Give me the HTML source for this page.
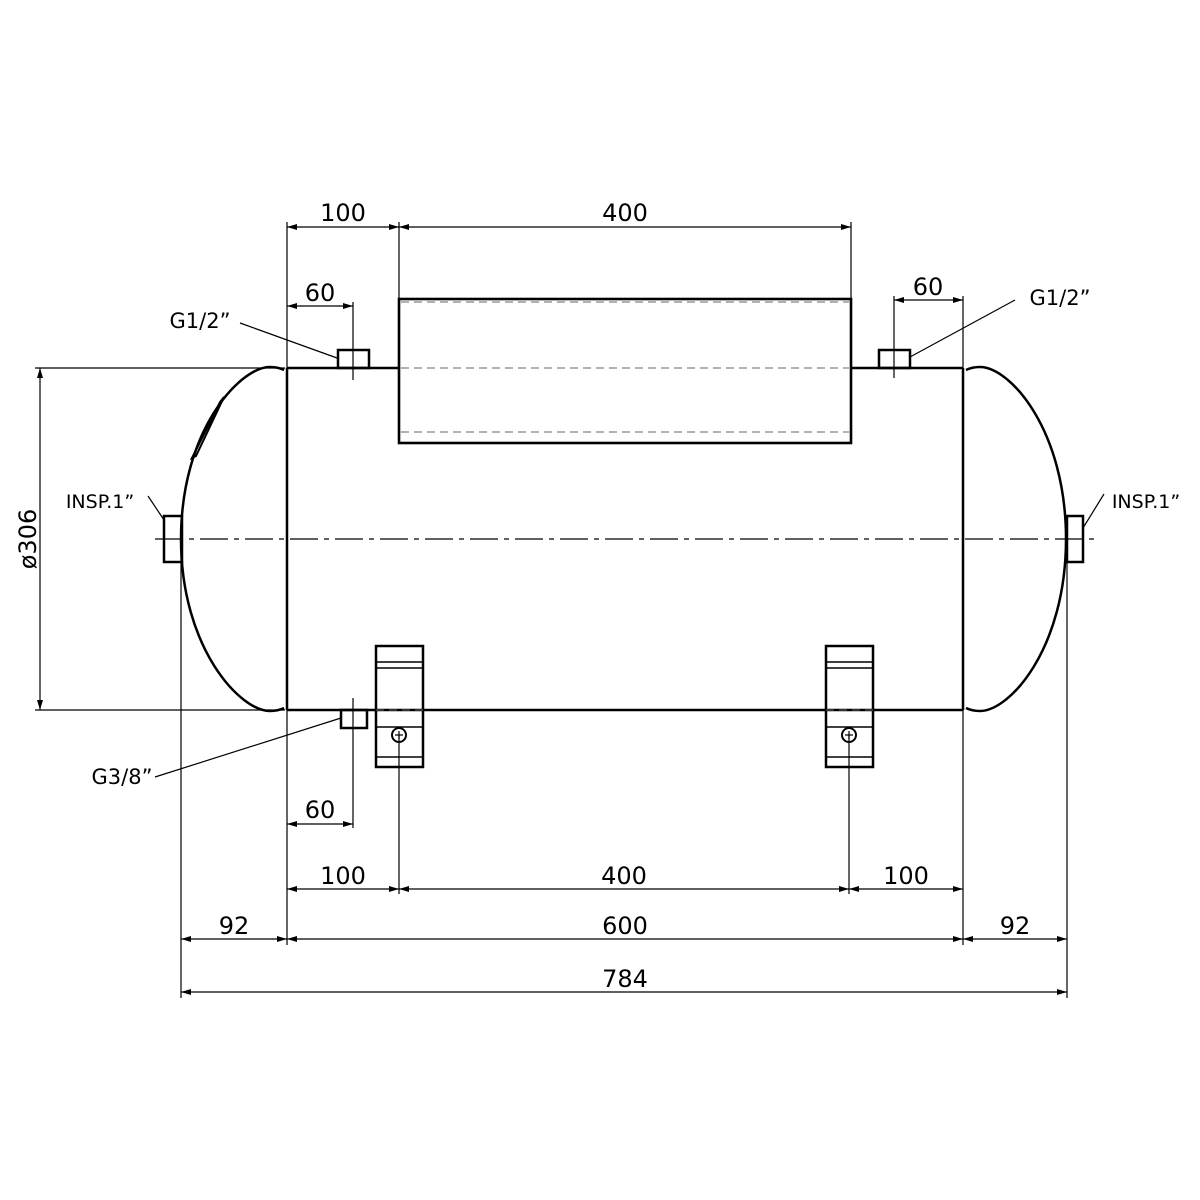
<!DOCTYPE html>
<html><head><style>
html,body{margin:0;padding:0;background:#fff;}
svg{display:block}
text{font-family:"DejaVu Sans","Liberation Sans",sans-serif;fill:#000}
</style></head><body>
<svg width="1200" height="1200" viewBox="0 0 1200 1200" xmlns="http://www.w3.org/2000/svg">
<defs>
<marker id="a" viewBox="0 0 10 6" refX="10" refY="3" markerWidth="10" markerHeight="6" orient="auto-start-reverse" markerUnits="userSpaceOnUse"><path d="M0,0 L10,3 L0,6 z" fill="#000"/></marker>
</defs>
<g fill="none" stroke="#000">
<line x1="155" y1="539" x2="1095" y2="539" stroke-width="1.2" stroke-dasharray="28,6,5,6"/>
<g stroke-width="2.5">
<line x1="287" y1="368" x2="399" y2="368"/>
<line x1="851" y1="368" x2="963" y2="368"/>
<line x1="287" y1="710" x2="963" y2="710"/>
<line x1="287" y1="368" x2="287" y2="710"/>
<line x1="963" y1="368" x2="963" y2="710"/>
<path d="M284,370 C280,368 275,367 270,367 C240,367 181,430 181,539 C181,648 240,711 270,711 C275,711 280,710 284,708"/>
<path d="M966,370 C970,368 975,367 980,367 C1010,367 1066,430 1066,539 C1066,648 1010,711 980,711 C975,711 970,710 966,708"/>
<rect x="399" y="299" width="452" height="144" stroke-width="2.6"/>
<rect x="338" y="350" width="31" height="18"/>
<rect x="879" y="350" width="31" height="18"/>
<rect x="341" y="710" width="26" height="18"/>
<rect x="164" y="516" width="18" height="46"/>
<rect x="1067" y="516" width="16" height="46"/>
<rect x="376" y="646" width="47" height="121"/>
<rect x="826" y="646" width="47" height="121"/>
<path d="M192,458 L220,402 L224,397 L196,456 z" stroke-width="2"/>
</g>
<g stroke-width="1.5">
<line x1="376" y1="662" x2="423" y2="662"/><line x1="376" y1="668" x2="423" y2="668"/>
<line x1="376" y1="727" x2="423" y2="727"/><line x1="376" y1="757" x2="423" y2="757"/>
<line x1="826" y1="662" x2="873" y2="662"/><line x1="826" y1="668" x2="873" y2="668"/>
<line x1="826" y1="727" x2="873" y2="727"/><line x1="826" y1="757" x2="873" y2="757"/>
<circle cx="399" cy="735" r="7" stroke-width="2"/>
<circle cx="849" cy="735" r="7" stroke-width="2"/>
</g>
<g stroke-width="1" stroke="#666" stroke-dasharray="8,5">
<line x1="401" y1="368" x2="849" y2="368"/>
<line x1="401" y1="302" x2="849" y2="302"/>
<line x1="401" y1="432" x2="849" y2="432"/>
<line x1="376" y1="710" x2="423" y2="710"/>
<line x1="826" y1="710" x2="873" y2="710"/>
</g>
<g stroke-width="1.2">
<line x1="287" y1="222" x2="287" y2="368"/>
<line x1="399" y1="222" x2="399" y2="299"/>
<line x1="851" y1="222" x2="851" y2="299"/>
<line x1="353" y1="302" x2="353" y2="380"/>
<line x1="894" y1="296" x2="894" y2="378"/>
<line x1="963" y1="296" x2="963" y2="368"/>
<line x1="287" y1="710" x2="287" y2="945"/>
<line x1="963" y1="710" x2="963" y2="945"/>
<line x1="181" y1="545" x2="181" y2="998"/>
<line x1="1067" y1="545" x2="1067" y2="998"/>
<line x1="353" y1="698" x2="353" y2="828"/>
<line x1="399" y1="735" x2="399" y2="894"/>
<line x1="849" y1="735" x2="849" y2="894"/>
<line x1="35" y1="368" x2="285" y2="368"/>
<line x1="35" y1="710" x2="285" y2="710"/>
<line x1="395" y1="735" x2="403" y2="735"/><line x1="399" y1="731" x2="399" y2="739"/>
<line x1="845" y1="735" x2="853" y2="735"/><line x1="849" y1="731" x2="849" y2="739"/>
</g>
<g stroke-width="1.2" marker-start="url(#a)" marker-end="url(#a)">
<line x1="287" y1="227" x2="399" y2="227"/>
<line x1="399" y1="227" x2="851" y2="227"/>
<line x1="287" y1="306" x2="353" y2="306"/>
<line x1="894" y1="300" x2="963" y2="300"/>
<line x1="287" y1="824" x2="353" y2="824"/>
<line x1="287" y1="889" x2="399" y2="889"/>
<line x1="399" y1="889" x2="849" y2="889"/>
<line x1="849" y1="889" x2="963" y2="889"/>
<line x1="181" y1="939" x2="287" y2="939"/>
<line x1="287" y1="939" x2="963" y2="939"/>
<line x1="963" y1="939" x2="1067" y2="939"/>
<line x1="181" y1="992" x2="1067" y2="992"/>
<line x1="40" y1="368" x2="40" y2="710"/>
</g>
<g stroke-width="1.2">
<line x1="240" y1="323" x2="337" y2="358"/>
<line x1="910" y1="357" x2="1015" y2="300"/>
<line x1="155" y1="777" x2="341" y2="718"/>
<line x1="148" y1="496" x2="164" y2="520"/>
<line x1="1083" y1="528" x2="1104" y2="494"/>
</g>
</g>
<g font-size="24" text-anchor="middle">
<text x="343" y="221">100</text>
<text x="625" y="221">400</text>
<text x="320" y="301">60</text>
<text x="928" y="295">60</text>
<text x="320" y="818">60</text>
<text x="343" y="884">100</text>
<text x="624" y="884">400</text>
<text x="906" y="884">100</text>
<text x="234" y="934">92</text>
<text x="625" y="934">600</text>
<text x="1015" y="934">92</text>
<text x="625" y="987">784</text>
<text x="200" y="328" font-size="21">G1/2”</text>
<text x="1060" y="305" font-size="21">G1/2”</text>
<text x="122" y="784" font-size="21">G3/8”</text>
<text x="100" y="508" font-size="19">INSP.1”</text>
<text x="1146" y="508" font-size="19">INSP.1”</text>
<text x="0" y="0" transform="translate(36,539) rotate(-90)">ø306</text>
</g>
</svg>
</body></html>
